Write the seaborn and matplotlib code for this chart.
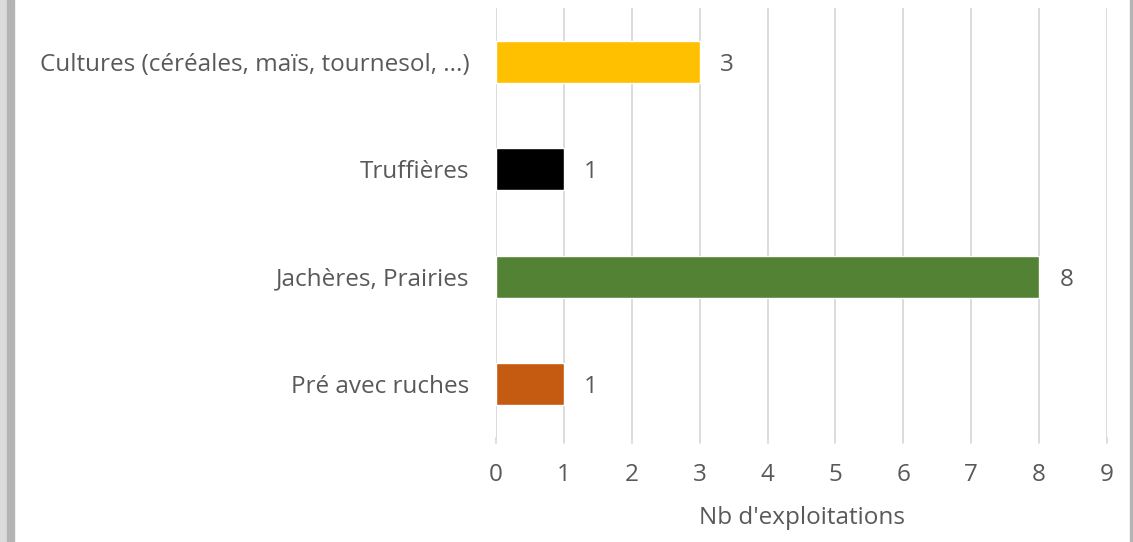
import matplotlib
matplotlib.use("Agg")
import matplotlib.pyplot as plt
import matplotlib.patches as mpatches
import seaborn as sns
import pandas as pd

categories = ["Cultures (céréales, maïs, tournesol, ...)", "Truffières",
              "Jachères, Prairies", "Pré avec ruches"]
values = [3, 1, 8, 1]
colors = ["#FFC000", "#000000", "#548235", "#C55A11"]
xticks = list(range(0, 10))

sns.set_theme(style="white")
plt.rcParams['font.family'] = ['Open Sans', 'DejaVu Sans']
text_color = "#595959"
fs = 17.5

df = pd.DataFrame({"cat": categories, "val": values})

fig = plt.figure(figsize=(11.33, 5.42), dpi=100)
ax = fig.add_axes([0.4378, 0.1919, 0.9771 - 0.4378, 0.9852 - 0.1919])

sns.barplot(data=df, x="val", y="cat", hue="cat", palette=colors, saturation=1,
            legend=False, width=0.39, ax=ax, zorder=3)

ax.set_xlim(0, 9)
ax.set_ylim(3.5, -0.5)
ax.set_xticks(xticks)
ax.xaxis.grid(True, color="#d9d9d9", linewidth=1.3, zorder=0)
ax.set_axisbelow(True)
for s in ax.spines.values():
    s.set_visible(False)
ax.tick_params(axis="both", length=0, labelsize=fs, labelcolor=text_color)
ax.tick_params(axis="x", pad=18)
ax.tick_params(axis="y", pad=19)
ax.set_ylabel("")
ax.set_xlabel("Nb d'exploitations", fontsize=fs, color=text_color, labelpad=14)

# gridlines extend a bit below the plot area
for x in xticks:
    ax.plot([x, x], [3.5, 3.55], color="#d9d9d9", linewidth=1.3, clip_on=False)

for i, v in enumerate(values):
    ax.text(v + 0.4, i + 0.03, str(v), va="center", ha="center", fontsize=fs, color=text_color)

# grey window borders
fig.patches.append(mpatches.Rectangle((0, 0), 7 / 1133, 1, transform=fig.transFigure,
                                      color="#dcdcdc", zorder=0))
fig.patches.append(mpatches.Rectangle((7 / 1133, 0), 7 / 1133, 1, transform=fig.transFigure,
                                      color="#b4b4b4", zorder=0))
fig.patches.append(mpatches.Rectangle((1130 / 1133, 0), 3 / 1133, 1, transform=fig.transFigure,
                                      color="#b4b4b4", zorder=0))

fig.savefig("out.png", dpi=100)
